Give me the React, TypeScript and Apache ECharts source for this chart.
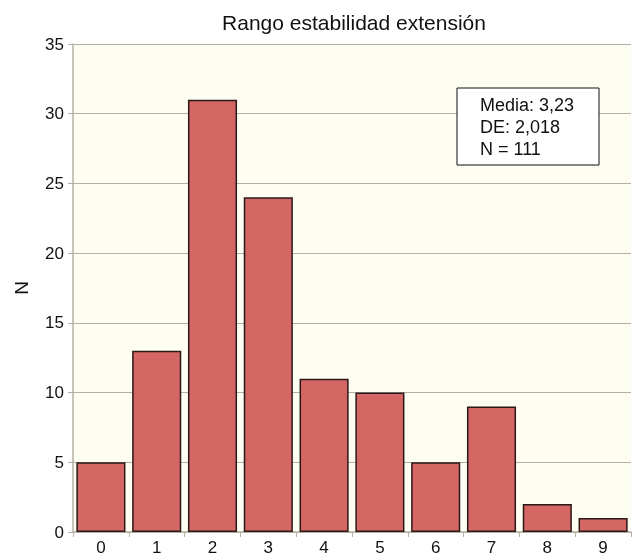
import React, { useEffect, useRef } from "react";
import * as echarts from "echarts";

const categories = ["0", "1", "2", "3", "4", "5", "6", "7", "8", "9"];
const counts = [5, 13, 31, 24, 11, 10, 5, 9, 2, 1];
const statsLines = ["Media: 3,23", "DE: 2,018", "N = 111"];
const titleText = "Rango estabilidad extensión";
const yName = "N";

export default function App() {
  const ref = useRef<HTMLDivElement>(null);
  useEffect(() => {
    if (!ref.current) return;
    const chart = echarts.init(ref.current, null, { renderer: "svg" });
    const font = "'Liberation Sans', Arial, sans-serif";
    chart.setOption({
      animation: false,
      textStyle: { fontFamily: font },
      title: {
        text: titleText,
        left: 349,
        top: 7,
        textAlign: "center",
        textStyle: { fontSize: 21, fontWeight: "normal", color: "#111", fontFamily: font },
      },
      grid: { left: 73, right: 2, top: 44, bottom: 26, backgroundColor: "#FEFDF2", show: true, borderWidth: 0 },
      xAxis: {
        type: "category",
        data: categories,
        axisLine: { lineStyle: { color: "#b5b0a6", width: 1.5 } },
        axisTick: { show: true, length: 5, lineStyle: { color: "#b5b0a6" } },
        axisLabel: { color: "#111", fontSize: 17, margin: 7, fontFamily: font },
      },
      yAxis: {
        type: "value",
        min: 0,
        max: 35,
        interval: 5,
        name: yName,
        nameLocation: "middle",
        nameGap: 42,
        nameRotate: 90,
        nameTextStyle: { color: "#111", fontSize: 19, fontFamily: font },
        axisLine: { show: true, lineStyle: { color: "#b5b0a6", width: 1.5 } },
        axisTick: { show: true, length: 5, lineStyle: { color: "#b5b0a6" } },
        axisLabel: { color: "#111", fontSize: 17, margin: 9, fontFamily: font },
        splitLine: { show: true, lineStyle: { color: "#b5b0a6", width: 1.2 } },
      },
      series: [
        {
          type: "bar",
          data: counts,
          barCategoryGap: "12%",
          itemStyle: { color: "#D46764", borderColor: "#2a1818", borderWidth: 1.5 },
        },
      ],
      graphic: [
        {
          type: "rect",
          shape: { x: 457, y: 88, width: 142, height: 77 },
          style: { fill: "#FFFFFF", stroke: "#111", lineWidth: 1 },
          z: 10,
        },
        ...statsLines.map((t, i) => ({
          type: "text",
          x: 480,
          y: 105 + i * 22,
          z: 11,
          style: {
            text: t,
            fill: "#111",
            font: `18px ${font}`,
            textVerticalAlign: "middle",
          },
        })),
      ],
    });
    return () => chart.dispose();
  }, []);
  return (
    <div
      ref={ref}
      style={{ position: "fixed", left: 0, top: 0, width: 633, height: 558 }}
    />
  );
}
